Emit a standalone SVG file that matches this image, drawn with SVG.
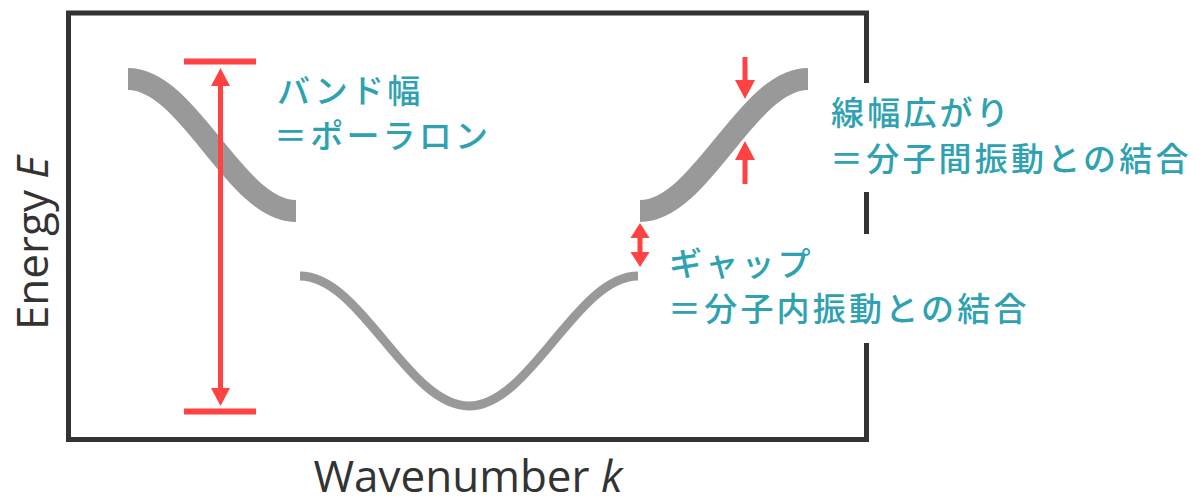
<svg xmlns="http://www.w3.org/2000/svg" width="1196" height="499" viewBox="0 0 1196 499">
  <style>
    .band { fill: none; stroke: #999999; stroke-linecap: butt; }
    .red { fill: #ff4343; }
    .redline { stroke: #ff4343; fill: none; }
    .jp { font-family: "Noto Sans CJK JP", "Noto Sans", sans-serif; font-size: 33px; font-weight: 500; fill: #2fa2b1; letter-spacing: 3.2px; }
    .axis { font-family: "Open Sans", "Liberation Sans", sans-serif; font-size: 44px; fill: #333333; }
  </style>
  <rect width="1196" height="499" fill="#ffffff"/>
  <g id="frame">
    <rect x="68.5" y="13" width="798" height="426.5" fill="none" stroke="#333333" stroke-width="5"/>
  </g>
  <g id="bands">
    <path class="band" stroke-width="22" d="M128,79 C189,79 235,211 296,211"/>
    <path class="band" stroke-width="22" d="M640,211 C701,211 747,79 808,79"/>
    <path class="band" stroke-width="9" stroke="#9b9b94" d="M300,276 C361.5,276 407.5,406 469,406 C530.5,406 576.5,276 638,276"/>
  </g>
  <g id="connectors">
    <g id="bandwidth-arrow">
      <rect class="red" x="184" y="58.5" width="72" height="6"/>
      <rect class="red" x="184" y="408.5" width="72" height="6"/>
      <line class="redline" x1="220.5" y1="84" x2="220.5" y2="390" stroke-width="5"/>
      <polygon class="red" points="220.5,68 230,86 211,86"/>
      <polygon class="red" points="220.5,406 230,388 211,388"/>
    </g>
    <g id="linewidth-arrows">
      <line class="redline" x1="745" y1="57" x2="745" y2="82" stroke-width="5"/>
      <polygon class="red" points="735,80 755,80 745,99"/>
      <line class="redline" x1="745" y1="158" x2="745" y2="184" stroke-width="5"/>
      <polygon class="red" points="735,160 755,160 745,141"/>
    </g>
    <g id="gap-arrow">
      <line class="redline" x1="640" y1="235" x2="640" y2="255" stroke-width="5"/>
      <polygon class="red" points="640,223 649.5,238 630.5,238"/>
      <polygon class="red" points="640,267 649.5,252 630.5,252"/>
    </g>
  </g>
  <g id="label-bandwidth">
    <text class="jp" x="277" y="103">バンド幅</text>
    <text class="jp" x="274" y="148">＝ポーラロン</text>
  </g>
  <g id="label-linewidth">
    <rect x="828" y="83" width="368" height="109" fill="#ffffff"/>
    <text class="jp" x="831" y="125">線幅広がり</text>
    <text class="jp" x="830" y="171">＝分子間振動との結合</text>
  </g>
  <g id="label-gap">
    <rect x="665" y="234" width="380" height="109" fill="#ffffff"/>
    <text class="jp" x="669" y="276">ギャップ</text>
    <text class="jp" x="668" y="321">＝分子内振動との結合</text>
  </g>
  <g id="axis-labels">
    <text class="axis" x="468" y="492" text-anchor="middle">Wavenumber <tspan font-style="italic">k</tspan></text>
    <text class="axis" transform="translate(48,243) rotate(-90)" text-anchor="middle">Energy <tspan font-style="italic">E</tspan></text>
  </g>
</svg>
